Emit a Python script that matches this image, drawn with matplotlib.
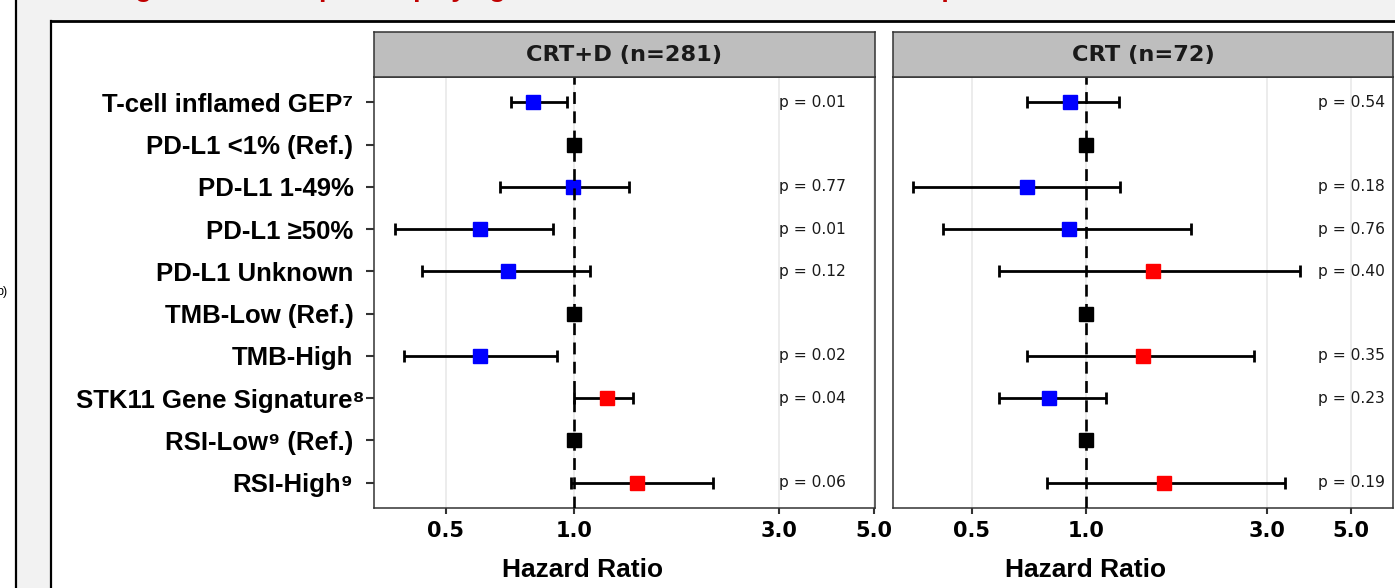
import numpy as np
import matplotlib
matplotlib.use('Agg')
import matplotlib.pyplot as plt
import matplotlib.transforms as mtransforms
from matplotlib.lines import Line2D
from matplotlib.patches import Rectangle
from matplotlib.ticker import NullLocator

plt.rcParams['font.family'] = ['Liberation Sans', 'DejaVu Sans']

nan = np.nan

# ---------------------------------------- data
labels = ['T-cell inflamed GEP⁷', 'PD-L1 <1% (Ref.)', 'PD-L1 1-49%',
          'PD-L1 ≥50%', 'PD-L1 Unknown', 'TMB-Low (Ref.)', 'TMB-High',
          'STK11 Gene Signature⁸', 'RSI-Low⁹ (Ref.)', 'RSI-High⁹']
is_ref = [False, True, False, False, False, True, False, False, True, False]

crtd_title = 'CRT+D (n=281)'
crtd_hr = [0.80, 1.0, 0.99, 0.60, 0.70, 1.0, 0.60, 1.19, 1.0, 1.40]
crtd_lo = [0.71, nan, 0.67, 0.38, 0.44, nan, 0.40, 1.00, nan, 0.98]
crtd_hi = [0.96, nan, 1.34, 0.89, 1.09, nan, 0.91, 1.37, nan, 2.11]
crtd_p = ['0.01', '', '0.77', '0.01', '0.12', '', '0.02', '0.04', '', '0.06']

crt_title = 'CRT (n=72)'
crt_hr = [0.91, 1.0, 0.70, 0.90, 1.50, 1.0, 1.41, 0.80, 1.0, 1.61]
crt_lo = [0.70, nan, 0.35, 0.42, 0.59, nan, 0.70, 0.59, nan, 0.79]
crt_hi = [1.22, nan, 1.23, 1.89, 3.67, nan, 2.77, 1.13, nan, 3.35]
crt_p = ['0.54', '', '0.18', '0.76', '0.40', '', '0.35', '0.23', '', '0.19']

x_ticks = [0.5, 1.0, 3.0, 5.0]
x_ticklabels = ['0.5', '1.0', '3.0', '5.0']

W, H = 1395, 588
fig = plt.figure(figsize=(W / 100, H / 100), dpi=100, facecolor='white')

# ---------------------------------------- poster frame
fig.patches.append(Rectangle((16 / W, 0), 1, 1, transform=fig.transFigure,
                             facecolor='#f2f2f2', edgecolor='none', zorder=-10))
fig.patches.append(Rectangle((51 / W, 0), 1, 1 - 21 / H, transform=fig.transFigure,
                             facecolor='white', edgecolor='none', zorder=-9))
fig.lines.append(Line2D([16 / W, 16 / W], [0, 1], transform=fig.transFigure,
                        color='black', lw=1.6))
fig.lines.append(Line2D([51 / W, 51 / W], [0, 1 - 21 / H], transform=fig.transFigure,
                        color='black', lw=1.6))
fig.lines.append(Line2D([51 / W, 1], [1 - 21 / H, 1 - 21 / H], transform=fig.transFigure,
                        color='black', lw=2.0))
fig.text(112 / W, 1 + 3 / H,
         'Figure 3: Forest plot displaying biomarker correlation with PFS in patients',
         color='#c00000', fontsize=19, fontweight='bold', va='baseline', ha='left')
fig.text(7 / W, 1 - 292 / H, 'b)', fontsize=9, ha='right', va='center')


def draw_panel(x0, x1, hr, lo, hi, pv, xlim, p_x, title, show_y, lab_shift):
    top, bottom = 77, 508
    ax = fig.add_axes([x0 / W, (H - bottom) / H, (x1 - x0) / W, (bottom - top) / H])
    ax.set_xscale('log')
    ax.set_xlim(xlim)
    ax.set_ylim(0.4, 10.6)
    ys = np.arange(len(labels))[::-1] + 1

    for t in x_ticks:
        ax.axvline(t, color='#ebebeb', lw=1.3, zorder=0)

    for y, h, l, u, ref, p in zip(ys, hr, lo, hi, is_ref, pv):
        if ref:
            ax.plot(h, y, 's', color='black', ms=10.5, zorder=3)
            continue
        col = 'blue' if h < 1 else 'red'
        ax.errorbar(h, y, xerr=[[h - l], [u - h]], fmt='none', ecolor='black',
                    elinewidth=2.0, capsize=4.3, capthick=2.0, zorder=2)
        ax.plot(h, y, 's', color=col, ms=10.5, zorder=3)
        ax.text(p_x, y, 'p = ' + p, fontsize=11.2, family='DejaVu Sans',
                ha='left', va='center', color='#1a1a1a')

    ax.axvline(1.0, color='black', lw=1.9, ls=(0, (4.5, 2.8)), zorder=4)

    ax.set_xticks(x_ticks)
    ax.set_xticklabels(x_ticklabels)
    ax.xaxis.set_minor_locator(NullLocator())
    for lab in ax.get_xticklabels():
        lab.set_fontfamily('DejaVu Sans')
        lab.set_fontweight('bold')
        lab.set_fontsize(15)
    ax.tick_params(axis='x', length=4.3, width=1.5, color='#333333', pad=5)

    if show_y:
        ax.set_yticks(ys)
        ax.set_yticklabels(labels, fontsize=18.5, fontweight='bold')
        ax.tick_params(axis='y', length=5.8, width=1.5, color='#333333', pad=9)
        # the STK11 label sticks out past the others in the original
        stk = ax.get_yticklabels()[7]
        stk.set_transform(stk.get_transform() +
                          mtransforms.ScaledTranslation(0.11, 0, fig.dpi_scale_trans))
    else:
        ax.set_yticks([])

    for s in ax.spines.values():
        s.set_color('#333333')
        s.set_linewidth(1.1)

    frac = (np.log(1.0) - np.log(xlim[0])) / (np.log(xlim[1]) - np.log(xlim[0]))
    ax.set_xlabel('Hazard Ratio', fontsize=19, fontweight='bold', labelpad=12)
    ax.xaxis.label.set_x(frac + lab_shift)

    # facet strip
    sax = fig.add_axes([x0 / W, (H - top) / H, (x1 - x0) / W, (top - 32) / H])
    sax.set_facecolor('#bebebe')
    sax.set_xticks([])
    sax.set_yticks([])
    for s in sax.spines.values():
        s.set_color('#333333')
        s.set_linewidth(1.1)
    sax.text(0.5, 0.5, title, transform=sax.transAxes, ha='center', va='center',
             family='DejaVu Sans', fontweight='bold', fontsize=16.2, color='#1a1a1a')
    return ax


draw_panel(374, 875, crtd_hr, crtd_lo, crtd_hi, crtd_p, (0.34, 5.04), 3.0, crtd_title, True, 0.016)
draw_panel(893, 1393, crt_hr, crt_lo, crt_hi, crt_p, (0.31, 6.45), 4.1, crt_title, False, 0.0)

fig.savefig('out.png', dpi=100, facecolor='white')
